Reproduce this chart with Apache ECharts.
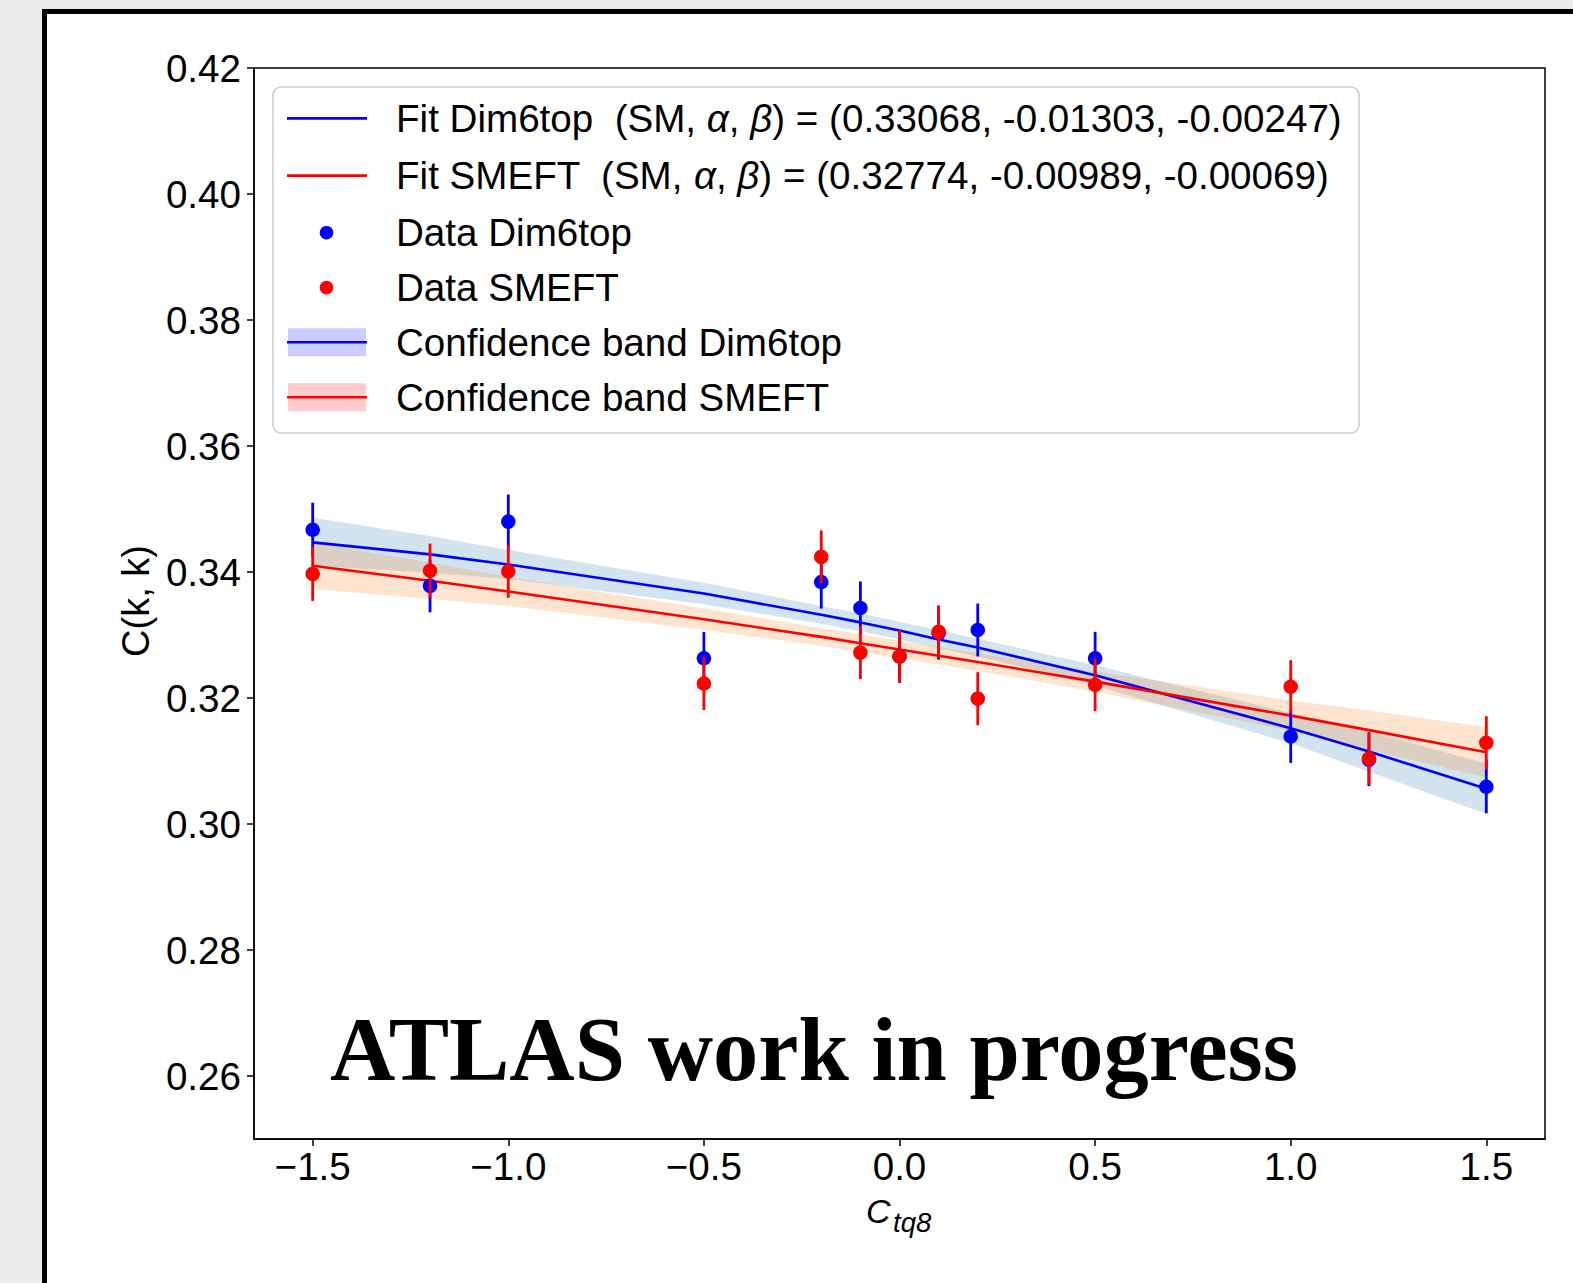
<!DOCTYPE html>
<html><head><meta charset="utf-8">
<script src="https://cdn.jsdelivr.net/npm/echarts@6/dist/echarts.min.js"></script>
<style>
html,body{margin:0;padding:0;width:1573px;height:1283px;background:#ebebeb;overflow:hidden;}
#panel{position:absolute;left:42px;top:9px;width:1600px;height:1400px;background:#fff;border-left:5px solid #000;border-top:5px solid #000;}
#chart{position:absolute;left:0;top:0;width:1573px;height:1283px;}
</style></head><body><div id="panel"></div><div id="chart"></div>
<script>
// ---- data ----
const xValues = [-1.5, -1.2, -1.0, -0.5, -0.2, -0.1, 0.0, 0.1, 0.2, 0.5, 1.0, 1.2, 1.5];

const dataDim6top = [0.3467, 0.3378, 0.3480, 0.3263, 0.3384, 0.3343, 0.3266, 0.3303, 0.3308, 0.3263, 0.3139, 0.3102, 0.3059];
const errDim6top  = [0.0043, 0.0042, 0.0043, 0.0042, 0.0042, 0.0042, 0.0042, 0.0042, 0.0042, 0.0042, 0.0042, 0.0042, 0.0042];
const dataSMEFT   = [0.3397, 0.3402, 0.3401, 0.3223, 0.3424, 0.3272, 0.3266, 0.3305, 0.3199, 0.3221, 0.3218, 0.3104, 0.3129];
const errSMEFT    = [0.0043, 0.0043, 0.0042, 0.0042, 0.0042, 0.0042, 0.0042, 0.0042, 0.0042, 0.0042, 0.0042, 0.0042, 0.0042];

const fitDim6top = [0.3447, 0.3428, 0.3412, 0.3366, 0.3332, 0.3320, 0.3307, 0.3293, 0.3280, 0.3236, 0.3152, 0.3115, 0.3056];
const fitSMEFT   = [0.3410, 0.3386, 0.3369, 0.3325, 0.3297, 0.3287, 0.3277, 0.3267, 0.3257, 0.3226, 0.3172, 0.3149, 0.3114];

const bandDim6topLow  = [0.3410, 0.3399, 0.3389, 0.3349, 0.3318, 0.3306, 0.3293, 0.3279, 0.3266, 0.3220, 0.3128, 0.3083, 0.3016];
const bandDim6topHigh = [0.3486, 0.3457, 0.3435, 0.3383, 0.3346, 0.3334, 0.3321, 0.3307, 0.3294, 0.3252, 0.3176, 0.3147, 0.3096];
const bandSMEFTLow    = [0.3373, 0.3357, 0.3346, 0.3308, 0.3283, 0.3273, 0.3263, 0.3253, 0.3243, 0.3210, 0.3148, 0.3118, 0.3074];
const bandSMEFTHigh   = [0.3447, 0.3415, 0.3392, 0.3342, 0.3311, 0.3301, 0.3291, 0.3281, 0.3271, 0.3242, 0.3196, 0.3180, 0.3154];

const paramsDim6top = [0.33068, -0.01303, -0.00247];
const paramsSMEFT   = [0.32774, -0.00989, -0.00069];

const xTicks = [-1.5, -1.0, -0.5, 0.0, 0.5, 1.0, 1.5];
const yTicks = [0.26, 0.28, 0.30, 0.32, 0.34, 0.36, 0.38, 0.40, 0.42];

// ---- chart ----
const SANS = '"Liberation Sans", Arial, sans-serif';
const SERIF = '"Liberation Serif", "Times New Roman", serif';
const FS = 38.6;
const chart = echarts.init(document.getElementById('chart'), null, {renderer: 'svg'});

function bandSeries(name, lo, hi, color) {
  return {
    type: 'custom', name: name, z: 1, silent: true,
    data: xValues.map((x, i) => [x, lo[i], hi[i]]),
    encode: {x: 0, y: [1, 2]},
    renderItem: function (params, api) {
      if (params.dataIndex !== 0) return null;
      const pts = [];
      for (let i = 0; i < xValues.length; i++) pts.push(api.coord([xValues[i], hi[i]]));
      for (let i = xValues.length - 1; i >= 0; i--) pts.push(api.coord([xValues[i], lo[i]]));
      return {type: 'polygon', shape: {points: pts}, style: {fill: color, stroke: null}};
    }
  };
}
function errSeries(name, vals, errs, color, z) {
  return {
    type: 'custom', name: name, z: z, silent: true,
    data: xValues.map((x, i) => [x, vals[i] - errs[i], vals[i] + errs[i]]),
    encode: {x: 0, y: [1, 2]},
    renderItem: function (params, api) {
      const p1 = api.coord([api.value(0), api.value(1)]);
      const p2 = api.coord([api.value(0), api.value(2)]);
      return {type: 'line', shape: {x1: p1[0], y1: p1[1], x2: p2[0], y2: p2[1]},
              style: {stroke: color, lineWidth: 2.8}};
    }
  };
}
function fitSeries(name, vals, color) {
  return {type: 'line', name: name, z: 2, silent: true, symbol: 'none',
          data: xValues.map((x, i) => [x, vals[i]]),
          lineStyle: {color: color, width: 2.6}};
}
function scatterSeries(name, vals, color, z) {
  return {type: 'scatter', name: name, z: z, silent: true, symbolSize: 14.5,
          data: xValues.map((x, i) => [x, vals[i]]),
          itemStyle: {color: color, opacity: 1}};
}

const fmtP = p => p.map(v => v.toFixed(5)).join(', ');
const legendRows = [
  {y: 118.4, text: 'Fit Dim6top  (SM, {i|α}, {i|β}) = (' + fmtP(paramsDim6top) + ')', kind: 'line', color: '#0000ff'},
  {y: 175.6, text: 'Fit SMEFT  (SM, {i|α}, {i|β}) = (' + fmtP(paramsSMEFT) + ')', kind: 'line', color: '#ff0000'},
  {y: 232.7, text: 'Data Dim6top', kind: 'dot', color: '#0000ff'},
  {y: 287.6, text: 'Data SMEFT', kind: 'dot', color: '#ff0000'},
  {y: 342.3, text: 'Confidence band Dim6top', kind: 'band', color: '#0000ff', fill: 'rgb(204,204,255)'},
  {y: 397.2, text: 'Confidence band SMEFT', kind: 'band', color: '#ff0000', fill: 'rgb(255,204,204)'}
];
const legendEls = [{
  type: 'rect', shape: {x: 273, y: 87, width: 1086, height: 346, r: 8},
  style: {fill: 'rgba(255,255,255,0.8)', stroke: '#d0d0d0', lineWidth: 1.6}
}];
legendRows.forEach(r => {
  if (r.kind === 'band') {
    legendEls.push({type: 'rect', shape: {x: 288, y: r.y - 14, width: 78, height: 28}, style: {fill: r.fill}});
  }
  if (r.kind === 'line' || r.kind === 'band') {
    legendEls.push({type: 'line', shape: {x1: 287, y1: r.y, x2: 367, y2: r.y}, style: {stroke: r.color, lineWidth: 2.6}});
  } else {
    legendEls.push({type: 'circle', shape: {cx: 326.5, cy: r.y, r: 6.8}, style: {fill: r.color}});
  }
  legendEls.push({type: 'text', x: 396, y: r.y, style: {
    text: r.text, fill: '#000', fontSize: FS, fontFamily: SANS, align: 'left', verticalAlign: 'middle',
    rich: {i: {fontStyle: 'italic', fontSize: FS, fontFamily: SANS, fill: '#000'}}
  }});
});

const option = {
  animation: false,
  backgroundColor: 'transparent',
  grid: {left: 254, top: 68, right: 28, bottom: 144, show: true, borderColor: '#000', borderWidth: 1.5, backgroundColor: 'transparent'},
  xAxis: {
    type: 'value', min: -1.65, max: 1.65,
    axisLine: {show: true, onZero: false, lineStyle: {color: '#000', width: 1.5}},
    axisTick: {show: true, inside: false, length: 7, lineStyle: {color: '#000', width: 1.5}, customValues: xTicks},
    axisLabel: {show: true, margin: 8, fontSize: FS, fontFamily: SANS, color: '#000', customValues: xTicks,
      formatter: v => (v < 0 ? '\u2212' : '') + Math.abs(v).toFixed(1)},
    splitLine: {show: false}
  },
  yAxis: {
    type: 'value', min: 0.25, max: 0.42,
    axisLine: {show: true, onZero: false, lineStyle: {color: '#000', width: 1.5}},
    axisTick: {show: true, inside: false, length: 7, lineStyle: {color: '#000', width: 1.5}, customValues: yTicks},
    axisLabel: {show: true, margin: 13, fontSize: FS, fontFamily: SANS, color: '#000', customValues: yTicks,
      formatter: v => v.toFixed(2)},
    splitLine: {show: false}
  },
  series: [
    bandSeries('Confidence band Dim6top', bandDim6topLow, bandDim6topHigh, 'rgba(31,119,180,0.2)'),
    bandSeries('Confidence band SMEFT', bandSMEFTLow, bandSMEFTHigh, 'rgba(255,127,14,0.2)'),
    fitSeries('Fit Dim6top', fitDim6top, '#0000ff'),
    fitSeries('Fit SMEFT', fitSMEFT, '#ff0000'),
    errSeries('Err Dim6top', dataDim6top, errDim6top, '#0000ff', 3),
    scatterSeries('Data Dim6top', dataDim6top, '#0000ff', 4),
    errSeries('Err SMEFT', dataSMEFT, errSMEFT, '#ff0000', 5),
    scatterSeries('Data SMEFT', dataSMEFT, '#ff0000', 6)
  ],
  graphic: [
    {type: 'group', z: 100, children: legendEls},
    {type: 'text', z: 100, x: 330, y: 1049, style: {text: 'ATLAS work in progress', fill: '#000',
      fontSize: 90.5, fontWeight: 'bold', fontFamily: SERIF, align: 'left', verticalAlign: 'middle'}},
    {type: 'text', z: 100, x: 136, y: 601, rotation: Math.PI / 2, style: {text: 'C(k, k)', fill: '#000',
      fontSize: 38, fontFamily: SANS, align: 'center', verticalAlign: 'middle'}},
    {type: 'text', z: 100, x: 866, y: 1211, style: {text: 'C', fill: '#000', fontSize: 34, fontStyle: 'italic',
      fontFamily: SANS, align: 'left', verticalAlign: 'middle'}},
    {type: 'text', z: 100, x: 893, y: 1222, style: {text: 'tq8', fill: '#000', fontSize: 27.5, fontStyle: 'italic',
      fontFamily: SANS, align: 'left', verticalAlign: 'middle'}}
  ]
};
chart.setOption(option);
</script>
</body></html>
